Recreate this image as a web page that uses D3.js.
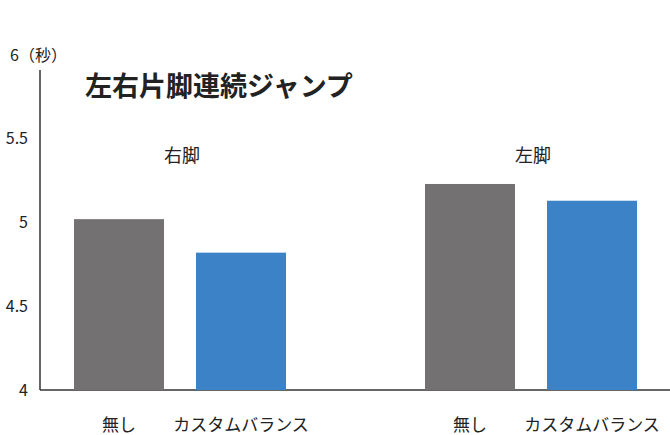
<!DOCTYPE html><html><head><meta charset="utf-8"><script src="https://cdn.jsdelivr.net/npm/d3@7"></script>
<style>body{margin:0;background:#fff}text{font-family:"Noto Sans CJK JP",sans-serif}</style></head><body><svg width="670" height="435"></svg>
<script>
const groups=["右脚","左脚"];
const categories=["無し","カスタムバランス"];
const values=[[5.02,4.82],[5.23,5.13]];
const ticks=[4,4.5,5,5.5,6];
const tickLabels=["4","4.5","5","5.5","6（秒）"];
const colors=["#737171","#3b82c6"];
const svg=d3.select("svg");
const y=d3.scaleLinear().domain([4,6]).range([390,55]);
const gx=d3.scaleBand().domain(groups).range([52,670]).paddingInner(0.0);
const bx=d3.scaleBand().domain(categories).range([0,260]).paddingInner(0.35);
svg.append("line").attr("x1",40).attr("x2",40).attr("y1",70).attr("y2",390).attr("stroke","#333").attr("stroke-width",1.5);
svg.append("line").attr("x1",40).attr("x2",670).attr("y1",390).attr("y2",390).attr("stroke","#333").attr("stroke-width",1.5);
ticks.forEach((t,i)=>{svg.append("text").attr("x",i==4?10:28).attr("y",y(t)).attr("dy","0.35em").attr("text-anchor",i==4?"start":"end").attr("font-size",16).attr("fill","#222").text(tickLabels[i]);});
groups.forEach((g,gi)=>{
 const off=[74,425][gi];
 categories.forEach((c,ci)=>{
  const x=off+bx(c)*(122/bx.step());
  svg.append("rect").attr("x",off+ci*122).attr("width",90).attr("y",y(values[gi][ci])).attr("height",390-y(values[gi][ci])).attr("fill",colors[ci]);
  svg.append("text").attr("x",off+ci*122+45).attr("y",431).attr("text-anchor","middle").attr("font-size",17).attr("fill","#222").text(c);
 });
 svg.append("text").attr("x",off+108).attr("y",162).attr("text-anchor","middle").attr("font-size",18).attr("fill","#222").text(g);
});
svg.append("text").attr("x",85).attr("y",96).attr("font-size",27).attr("font-weight","bold").attr("fill","#222").text("左右片脚連続ジャンプ");
</script></body></html>
